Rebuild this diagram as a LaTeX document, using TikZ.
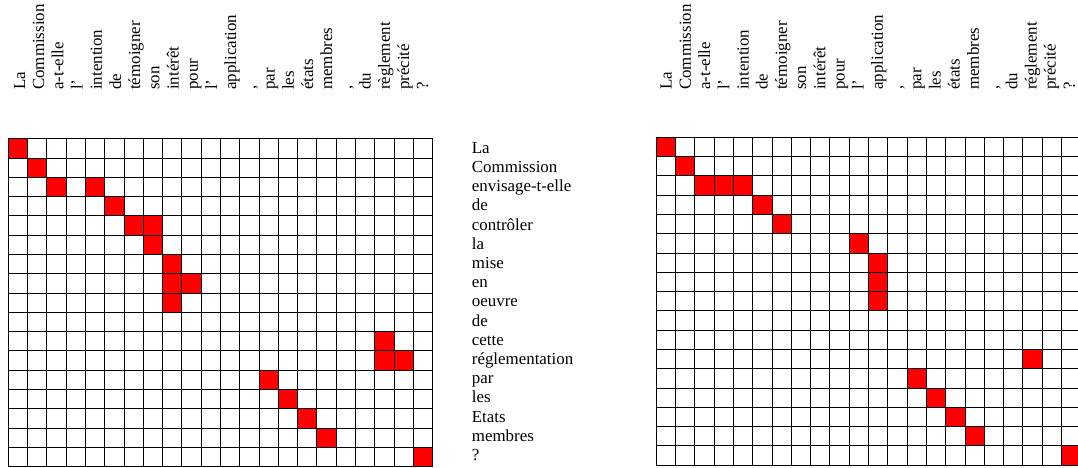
\documentclass[tikz,border=0pt]{standalone}
\usepackage{fontspec}
\setmainfont{Liberation Serif}
\begin{document}
\begin{tikzpicture}[x=1pt,y=-1pt,
  lbl/.style={inner sep=0pt, font=\fontsize{16.9}{19.2}\selectfont},
  collbl/.style={lbl, rotate=90, anchor=base west},
  rowlbl/.style={lbl, anchor=base west},
  gridline/.style={line width=0.9pt, draw=black},
  hit/.style={fill=red}]
\useasboundingbox (0,0) rectangle (1078,468);
\def\cw{19.29}
% ---------- left matrix ----------
\def\lx{8.3}\def\ly{138.7}
\foreach \c/\r in {0/0,1/1,2/2,4/2,5/3,6/4,7/4,7/5,8/6,8/7,9/7,8/8,19/10,19/11,20/11,13/12,14/13,15/14,16/15,21/16}
  \fill[hit] ({\lx+\c*\cw},{\ly+\r*\cw}) rectangle ++(\cw,\cw);
\foreach \i in {0,...,22}
  \draw[gridline] ({\lx+\i*\cw},\ly) -- ({\lx+\i*\cw},{\ly+17*\cw});
\foreach \j in {0,...,17}
  \draw[gridline] (\lx,{\ly+\j*\cw}) -- ({\lx+22*\cw},{\ly+\j*\cw});
\foreach \w [count=\i from 0] in {La,Commission,a-t-elle,l’,intention,de,témoigner,son,intérêt,pour,l’,application,{,},par,les,états,membres,{,},du,règlement,précité,?}
  \node[collbl] (lc\i) at ({25+19.2*\i},90) {\w};
\foreach \w [count=\i from 0] in {La,Commission,envisage-t-elle,de,contrôler,la,mise,en,oeuvre,de,cette,réglementation,par,les,Etats,membres,?}
  \node[rowlbl] (lr\i) at (471.7,{153.3+19.2*\i}) {\w};
% ---------- right matrix ----------
\def\rx{656.3}\def\ry{137.3}
\foreach \c/\r in {0/0,1/1,2/2,3/2,4/2,5/3,6/4,10/5,11/6,11/7,11/8,19/11,13/12,14/13,15/14,16/15,21/16}
  \fill[hit] ({\rx+\c*\cw},{\ry+\r*\cw}) rectangle ++(\cw,\cw);
\foreach \i in {0,...,22}
  \draw[gridline] ({\rx+\i*\cw},\ry) -- ({\rx+\i*\cw},{\ry+17*\cw});
\foreach \j in {0,...,17}
  \draw[gridline] (\rx,{\ry+\j*\cw}) -- ({\rx+22*\cw},{\ry+\j*\cw});
\foreach \w [count=\i from 0] in {La,Commission,a-t-elle,l’,intention,de,témoigner,son,intérêt,pour,l’,application,{,},par,les,états,membres,{,},du,réglement,précité,?}
  \node[collbl] (rc\i) at ({671.7+19.2*\i},90) {\w};
\end{tikzpicture}
\end{document}
